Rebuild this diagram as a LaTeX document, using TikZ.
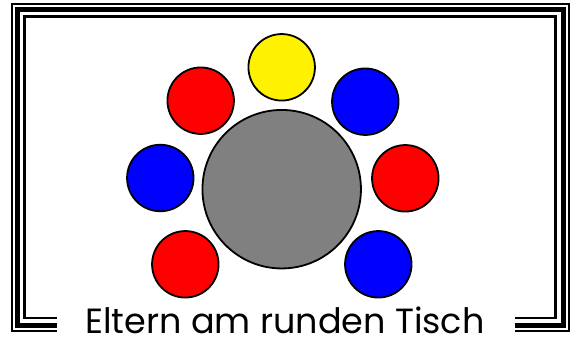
\documentclass[tikz,border=0pt]{standalone}
\usepackage{fontspec}
\setmainfont{Poppins}
\begin{document}
\begin{tikzpicture}[x=1pt,y=-1pt,
  seat/.style={circle, draw=black, line width=1.8pt, minimum size=66.5pt, inner sep=0pt},
  frameline/.style={draw=black, line cap=butt, line join=miter}]
\useasboundingbox (0,0) rectangle (574,340);
\fill[white] (0,0) rectangle (574,340);
% frame
\draw[frameline, line width=2pt] (56.7,331) -- (12,331) -- (12,4) -- (569,4) -- (569,331) -- (515,331);
\draw[frameline, line width=5pt] (56.7,325) -- (17.5,325) -- (17.5,9.5) -- (563.5,9.5) -- (563.5,325) -- (515,325);
\draw[frameline, line width=2.5pt] (56.7,318) -- (24.5,318) -- (24.5,16.5) -- (555.5,16.5) -- (555.5,318) -- (515,318);
% table
\node[circle, draw=black, line width=1.8pt, fill={rgb,255:red,128;green,128;blue,128}, minimum size=158.5pt, inner sep=0pt] (table) at (281.7,189.2) {};
% seats
\node[seat, fill=yellow] (s1) at (281.7,67.3) {};
\node[seat, fill=red] (s2) at (200.7,100.7) {};
\node[seat, fill=blue] (s3) at (365.3,101.7) {};
\node[seat, fill=blue] (s4) at (160.3,178) {};
\node[seat, fill=red] (s5) at (405.3,178.3) {};
\node[seat, fill=red] (s6) at (185.3,264.3) {};
\node[seat, fill=blue] (s7) at (378.3,264.3) {};
% title
\node[anchor=base, inner sep=0pt, font=\fontsize{35}{40}\selectfont] (title) at (285,333.5) {Eltern am runden Tisch};
\end{tikzpicture}
\end{document}
